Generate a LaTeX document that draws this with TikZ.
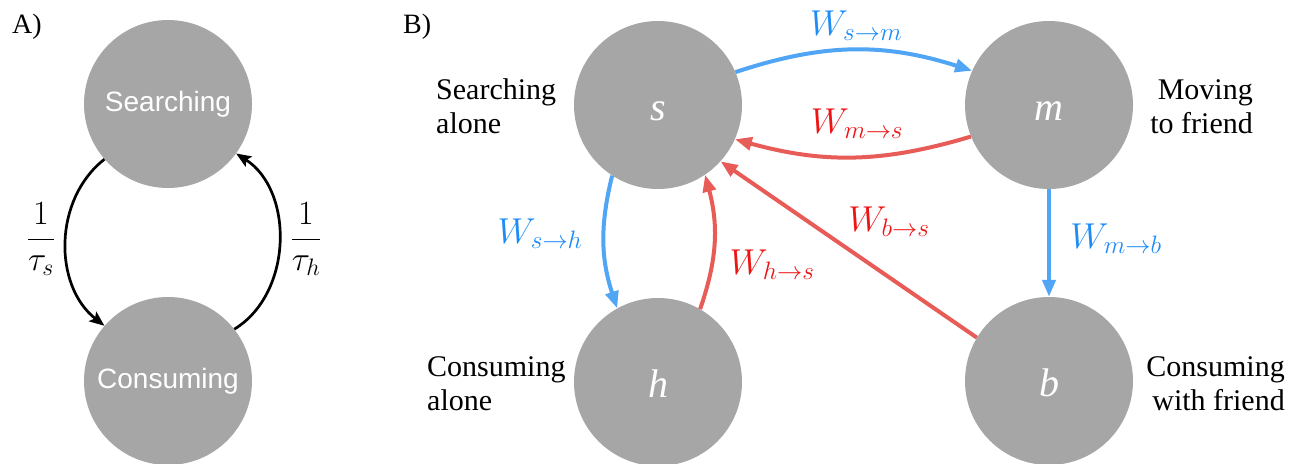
\RequirePackage{fix-cm}
\documentclass[tikz,border=0pt]{standalone}
\usepackage[no-math]{fontspec}
\setmainfont{Liberation Serif}
\newfontfamily\sansf{Liberation Sans}
\usetikzlibrary{arrows.meta}
\definecolor{nodegray}{RGB}{166,166,166}
\definecolor{arrblue}{RGB}{80,165,245}
\definecolor{labblue}{RGB}{30,140,245}
\definecolor{arrred}{RGB}{232,92,88}
\definecolor{labred}{RGB}{238,20,20}
\begin{document}
\begin{tikzpicture}[x=1pt,y=1pt,
  state/.style={circle, fill=nodegray, minimum size=168pt, inner sep=0pt},
  letter/.style={state, text=white, font=\fontsize{40}{40}\selectfont\itshape, text height=30pt, text depth=0pt},
  word/.style={state, text=white, font=\sansf\fontsize{28}{30}\selectfont},
  desc/.style={font=\fontsize{30}{34}\selectfont, inner sep=0pt},
  panel/.style={font=\fontsize{28}{30}\selectfont, inner sep=0pt, anchor=base west},
  blk/.style={-{Stealth[length=15pt,width=12pt,inset=3pt]}, line width=2.7pt, black},
  blu/.style={-{Triangle[length=17pt,width=13pt]}, line width=4pt, arrblue},
  rd/.style={-{Triangle[length=17pt,width=13pt]}, line width=4pt, arrred},
  mlab/.style={font=\fontsize{36}{40}\selectfont, inner sep=0pt, anchor=base},
  frac/.style={font=\fontsize{34}{40}\selectfont, inner sep=0pt},
]
\useasboundingbox (0,0) rectangle (1303,-463);
% Panel A
\node[panel] (pa) at (12,-33) {A)};
\node[word] (S) at (168,-104) {Searching};
\node[word] (C) at (168,-381) {Consuming};
\draw[blk] (S.221) to[bend right=52] (C.139);
\draw[blk] (C.38) to[bend right=58] (S.-36);
\node[frac] (fs) at (41,-239) {$\displaystyle\frac{1}{\tau_s}$};
\node[frac] (fh) at (306,-239) {$\displaystyle\frac{1}{\tau_h}$};
% Panel B
\node[panel] (pb) at (403,-33) {B)};
\node[letter] (s) at (658,-105) {s};
\node[letter] (m) at (1049,-105) {m};
\node[letter] (h) at (658,-382) {h};
\node[letter] (b) at (1049,-381) {b};
\node[desc, align=left, anchor=base west] (ls) at (436,-133) {Searching\\alone};
\node[desc, align=right, anchor=base east] (lm) at (1253,-133) {Moving\\to friend};
\node[desc, align=left, anchor=base west] (lh) at (427,-410) {Consuming\\alone};
\node[desc, align=right, anchor=base east] (lb) at (1285,-410) {Consuming\\with friend};
\draw[blu] (s.23) to[bend left=18] (m.156);
\draw[rd] (m.202) to[bend left=16] (s.-24);
\draw[blu] (s.237) to[bend right=16] (h.119);
\draw[rd] (h.60) to[bend right=17] (s.-56);
\draw[rd] (b.149) -- (s.-42);
\draw[blu] (m) -- (b);
\node[mlab, text=labblue] (wsm) at (856,-35) {$W_{s\to m}$};
\node[mlab, text=labred] (wms) at (857,-133) {$W_{m\to s}$};
\node[mlab, text=labblue] (wsh) at (540,-243) {$W_{s\to h}$};
\node[mlab, text=labred] (whs) at (772,-274) {$W_{h\to s}$};
\node[mlab, text=labred] (wbs) at (889,-231) {$W_{b\to s}$};
\node[mlab, text=labblue] (wmb) at (1116,-248) {$W_{m\to b}$};
\end{tikzpicture}
\end{document}
